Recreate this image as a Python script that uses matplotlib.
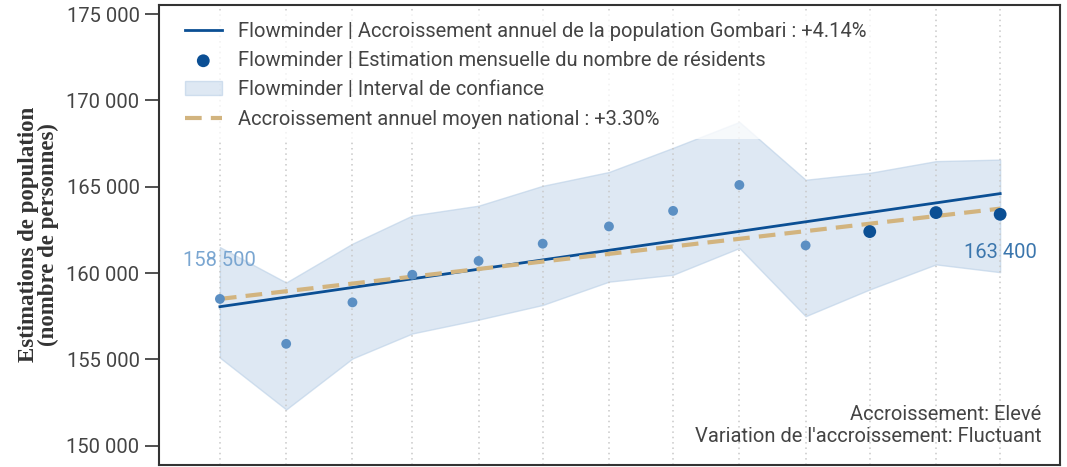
import matplotlib
matplotlib.use("Agg")
import matplotlib.pyplot as plt
import matplotlib.dates as mdates
import matplotlib.ticker as mticker
import numpy as np
import datetime as dt

# ---- data ----
months = ["2021-12-01", "2022-01-01", "2022-02-01", "2022-03-01", "2022-04-01",
          "2022-05-01", "2022-06-01", "2022-07-01", "2022-08-01", "2022-09-01",
          "2022-10-01", "2022-11-01", "2022-12-01"]
estimates = [158500, 155900, 158300, 159900, 160700, 161700, 162700,
             163600, 165100, 161600, 162400, 163500, 163400]
ci_low = [155100, 152100, 155050, 156500, 157300, 158150, 159500,
          159900, 161450, 157500, 159050, 160500, 160050]
ci_high = [161500, 159450, 161700, 163330, 163900, 165050, 165850,
           167250, 168750, 165400, 165800, 166480, 166570]
recent_flags = [0, 0, 0, 0, 0, 0, 0, 0, 0, 0, 1, 1, 1]
trend_ends = [158050, 164600]      # Gombari annual growth +4.14%
national_ends = [158500, 163730]   # national mean growth +3.30%
yticks = [150000, 155000, 160000, 165000, 170000, 175000]
first_label = "158 500"
last_label = "163 400"

labels_legend = ["Flowminder | Accroissement annuel de la population Gombari : +4.14%",
                 "Flowminder | Estimation mensuelle du nombre de résidents",
                 "Flowminder | Interval de confiance",
                 "Accroissement annuel moyen national : +3.30%"]

# ---- style ----
plt.rcParams['font.family'] = ['Roboto', 'DejaVu Sans']
DARK = "#0b4f94"
LIGHT_PT = "#5b8fc3"
FILL = "#c9daec"
TAN = "#d2b47f"
TXT = "#444444"

dates = [dt.datetime.strptime(m, "%Y-%m-%d") for m in months]
x = mdates.date2num(dates)

fig = plt.figure(figsize=(10.67, 4.67), dpi=100)
ax = fig.add_axes([159/1067, 1 - 465/467, (1060-159)/1067, (465-4.7)/467])

# confidence interval
fill = ax.fill_between(x, ci_low, ci_high, color=FILL, alpha=0.6,
                       edgecolor="#b9cfe6", linewidth=1.0, zorder=1,
                       label=labels_legend[2])

# trend lines
tline, = ax.plot([x[0], x[-1]], trend_ends, color=DARK, lw=2.0, zorder=3,
                 label=labels_legend[0])
nline, = ax.plot([x[0], x[-1]], national_ends, color=TAN, lw=3.0,
                 dashes=(4, 2.2), zorder=4, label=labels_legend[3])

# points
est = np.array(estimates)
flags = np.array(recent_flags)
ax.scatter(x[flags == 0], est[flags == 0], s=50, color=LIGHT_PT, zorder=5,
           edgecolors='none')
pts = ax.scatter(x[flags == 1], est[flags == 1], s=85, color=DARK, zorder=5,
                 edgecolors='none', label=labels_legend[1])

# value labels
ax.text(x[0], estimates[0] + 2240, first_label, color="#7aa6d1", fontsize=14.5,
        ha="center", va="center", zorder=6)
ax.text(x[-1], estimates[-1] - 2240, last_label, color="#3b76ad", fontsize=14.5,
        ha="center", va="center", zorder=6)

# axes
ax.set_xlim(x[0] - 28.5, x[-1] + 28)
ax.set_ylim(148882, 175540)
ax.set_xticks(x)
ax.tick_params(axis='x', length=0, labelbottom=False)
ax.xaxis.grid(True, color="#c8c8c8", linestyle=(0, (1, 2.5)), lw=1.1)
ax.yaxis.grid(False)
ax.set_yticks(yticks)
ax.yaxis.set_major_formatter(mticker.FuncFormatter(lambda v, p: f"{int(v):,}".replace(",", " ")))
ax.tick_params(axis='y', length=10, width=1.2, color="#333333", labelsize=14.5,
               labelcolor=TXT, pad=4)
for s in ax.spines.values():
    s.set_color("#333333")
    s.set_linewidth(1.5)

ax.set_ylabel("Estimations de population\n(nombre de personnes)",
              family="Liberation Serif", fontweight="bold", fontsize=16.5,
              color="#333333", linespacing=0.95, labelpad=5)

# annotation bottom-right
ax.text(0.979, 0.0858, "Accroissement: Elevé\nVariation de l'accroissement: Fluctuant",
        transform=ax.transAxes, ha="right", va="center", fontsize=14.5,
        color=TXT, linespacing=1.2, zorder=6)

leg = ax.legend(handles=[tline, pts, fill, nline], labels=labels_legend,
                loc="upper left", bbox_to_anchor=(0.0173, 0.985), fontsize=14.5,
                frameon=True, framealpha=0.75, edgecolor="none",
                handlelength=1.85, handletextpad=0.8, labelspacing=0.515,
                borderaxespad=0.0, borderpad=0.5)
for t in leg.get_texts():
    t.set_color(TXT)
leg.set_zorder(10)

fig.savefig("out.png", dpi=100)
